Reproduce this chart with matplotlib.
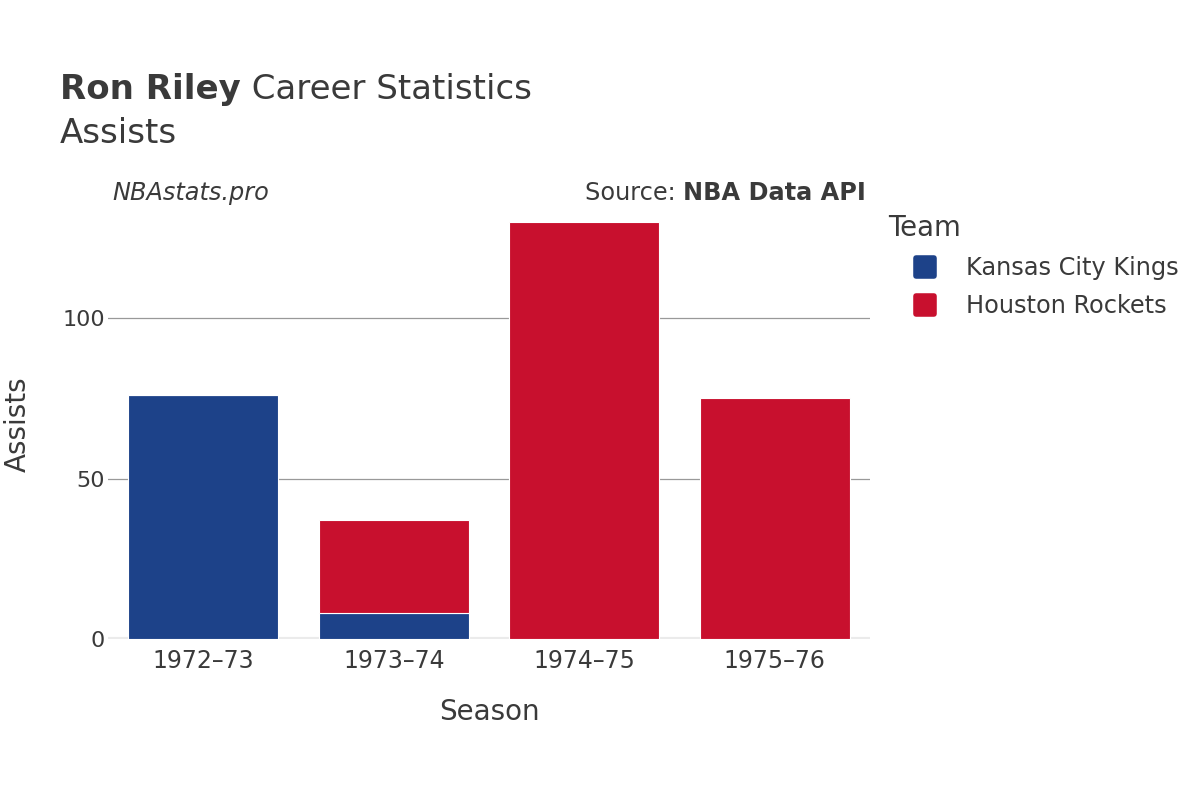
import matplotlib.pyplot as plt
from matplotlib.lines import Line2D
from matplotlib.markers import MarkerStyle

plt.rcParams['font.family'] = ['DejaVu Sans']

seasons = ['1972–73', '1973–74', '1974–75', '1975–76']
kings = [76, 8, 0, 0]
rockets = [0, 29, 130, 75]

kings_color = '#1d4289'
rockets_color = '#c8102e'
text_color = '#3a3a3a'

fig = plt.figure(figsize=(12, 8), dpi=100)
ax = fig.add_axes([0.09, 0.20125, 0.635, 0.5375])

x = range(len(seasons))
ax.bar(x, kings, width=0.79, color=kings_color, edgecolor='white', linewidth=0.8, zorder=3)
ax.bar(x, rockets, bottom=kings, width=0.79, color=rockets_color, edgecolor='white', linewidth=0.8, zorder=3)

ax.set_xlim(-0.5, 3.5)
ax.set_ylim(0, 134)
ax.set_yticks([0, 50, 100])
ax.set_xticks(list(x))
ax.set_xticklabels(seasons)
ax.grid(axis='y', color='#999999', linewidth=0.9, zorder=0)
ax.axhline(0, color='#ebebeb', linewidth=3, zorder=2)
for s in ax.spines.values():
    s.set_visible(False)
ax.tick_params(length=0, colors=text_color)
ax.tick_params(axis='x', labelsize=17, pad=7)
ax.tick_params(axis='y', labelsize=16, pad=2)
ax.set_xlabel('Season', fontsize=20, color=text_color, labelpad=18)
ax.set_ylabel('Assists', fontsize=20, color=text_color, labelpad=22)

t1 = fig.text(0.05, 0.876, 'Ron Riley', fontsize=24.5, fontweight='bold', color=text_color, va='baseline')
ax.annotate(' Career Statistics', xy=(1, 0), xycoords=t1, fontsize=24.5, color=text_color,
            va='bottom', ha='left', annotation_clip=False)
fig.text(0.05, 0.821, 'Assists', fontsize=24.5, color=text_color, va='baseline')

fig.text(0.094, 0.75, 'NBAstats.pro', fontsize=17.3, style='italic', color=text_color, va='baseline')
src = fig.text(0.7217, 0.75, 'NBA Data API', fontsize=17.3, fontweight='bold', color=text_color,
               ha='right', va='baseline')
ax.annotate('Source: ', xy=(0, 0), xycoords=src, fontsize=17.3, color=text_color,
            va='bottom', ha='right', annotation_clip=False)

sq = MarkerStyle('s', joinstyle='round')
handles = [
    Line2D([], [], marker=sq, linestyle='', markersize=13, color=kings_color,
           markeredgewidth=4, markeredgecolor=kings_color),
    Line2D([], [], marker=sq, linestyle='', markersize=13, color=rockets_color,
           markeredgewidth=4, markeredgecolor=rockets_color),
]
leg = fig.legend(handles, ['Kansas City Kings', 'Houston Rockets'], title='Team',
                 loc='upper left', bbox_to_anchor=(0.7325, 0.745), frameon=False,
                 fontsize=17.3, title_fontsize=19.8, labelcolor=text_color,
                 handlelength=3.0, handletextpad=0.2, labelspacing=0.6, borderaxespad=0)
leg.get_title().set_color(text_color)
leg._legend_box.align = 'left'

fig.savefig('out.png', dpi=100)
